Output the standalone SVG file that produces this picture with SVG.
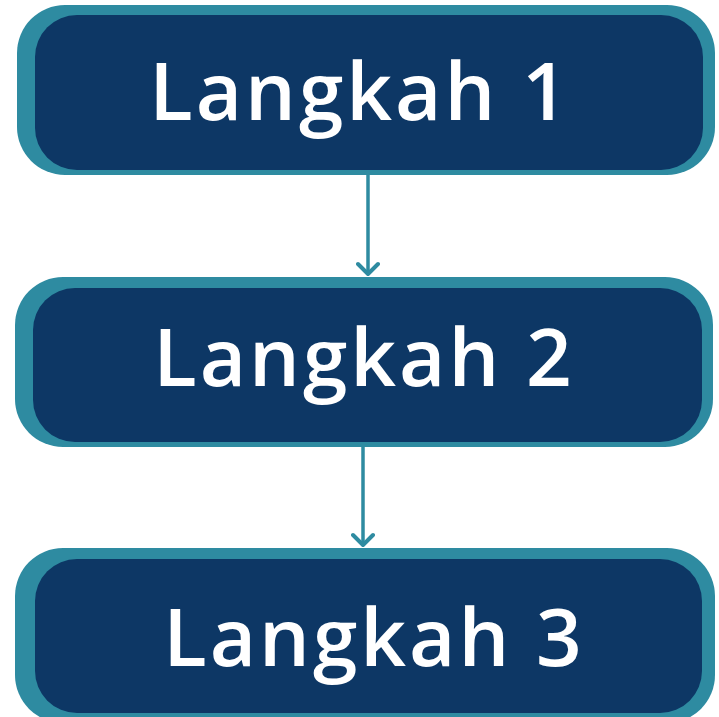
<svg xmlns="http://www.w3.org/2000/svg" width="719" height="717" viewBox="0 0 719 717">
<style>
.outer{fill:#2e8ba1}
.inner{fill:#0d3765}
.lbl{font-family:"Open Sans","DejaVu Sans",sans-serif;font-size:80px;fill:#ffffff;font-weight:600;text-anchor:middle;letter-spacing:3px}
.conn{stroke:#2e8ba1;stroke-width:3.5;fill:none;marker-end:url(#ah)}
</style>
<defs>
<marker id="ah" viewBox="0 0 16 24" refX="14" refY="12" markerWidth="16" markerHeight="24" markerUnits="userSpaceOnUse" orient="auto">
<path d="M3 2 L13 12 L3 22" fill="none" stroke="#2e8ba1" stroke-width="4" stroke-linecap="round" stroke-linejoin="round"/>
</marker>
</defs>
<rect width="719" height="717" fill="#ffffff"/>
<g id="node1">
<rect class="outer" x="17" y="5" width="698" height="170" rx="48"/>
<rect class="inner" x="35" y="15" width="668" height="155" rx="42"/>
<text class="lbl" x="360" y="120">Langkah 1</text>
</g>
<g id="node2">
<rect class="outer" x="15" y="277" width="698" height="170" rx="48"/>
<rect class="inner" x="33" y="288" width="669" height="154" rx="42"/>
<text class="lbl" x="364" y="386">Langkah 2</text>
</g>
<g id="node3">
<rect class="outer" x="15" y="548" width="700" height="175" rx="48"/>
<rect class="inner" x="35" y="559" width="667" height="154" rx="42"/>
<text class="lbl" x="374" y="666">Langkah 3</text>
</g>
<g id="connectors">
<line class="conn" x1="368" y1="175" x2="368" y2="275"/>
<line class="conn" x1="363" y1="447" x2="363" y2="546"/>
</g>
</svg>
